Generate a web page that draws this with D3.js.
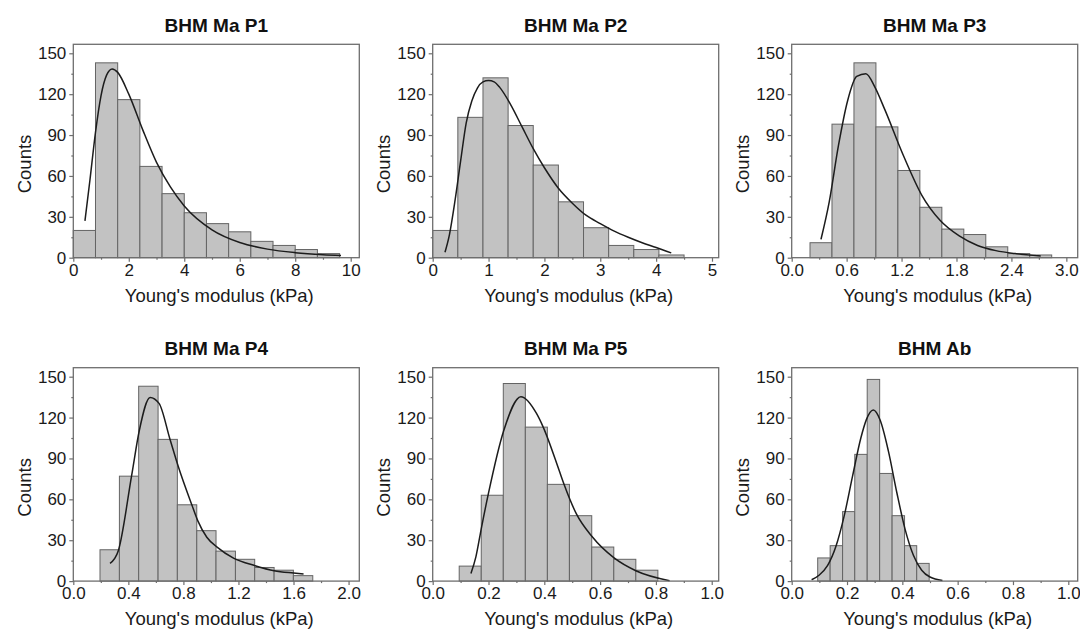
<!DOCTYPE html>
<html><head><meta charset="utf-8">
<script src="https://cdn.jsdelivr.net/npm/d3@7/dist/d3.min.js"></script>
<style>html,body{margin:0;padding:0;background:#fff;} svg{display:block;font-family:"Liberation Sans",Arial,sans-serif;}</style>
</head><body><svg id="c" width="1080" height="634"></svg>
<script>
// ---------- data ----------
const titles = ["BHM Ma P1", "BHM Ma P2", "BHM Ma P3", "BHM Ma P4", "BHM Ma P5", "BHM Ab"];
const xLabel = "Young's modulus (kPa)";
const yLabel = "Counts";
const yTicks = [0, 30, 60, 90, 120, 150];
const yMinorTicks = [15, 45, 75, 105, 135];
const yMax = 156.6;

const p1Edges = [0, 0.8, 1.6, 2.4, 3.2, 4.0, 4.8, 5.6, 6.4, 7.2, 8.0, 8.8, 9.6];
const p1Counts = [20, 143, 116, 67, 47, 33, 25, 19, 12, 9, 6, 3];
const p1CurveX = [0.42, 0.6, 0.8, 1.0, 1.2, 1.4, 1.6, 2.0, 2.5, 3.0, 3.5, 4.0, 5.0, 6.0, 7.0, 8.0, 9.0, 9.65];
const p1CurveY = [27, 57, 92, 119, 134, 138.5, 136, 120, 94, 70, 52, 38, 20.5, 11.2, 6.3, 3.7, 2.2, 1.6];
const p1XTicks = [0, 2, 4, 6, 8, 10];
const p1XMinor = [1, 3, 5, 7, 9];
const p1XMax = 10.31;

const p2Edges = [0, 0.45, 0.9, 1.35, 1.8, 2.25, 2.7, 3.15, 3.6, 4.05, 4.5];
const p2Counts = [20, 103, 132, 97, 68, 41, 22, 9, 6, 2];
const p2CurveX = [0.22, 0.3, 0.4, 0.5, 0.6, 0.7, 0.8, 0.9, 1.0, 1.1, 1.2, 1.4, 1.6, 1.8, 2.0, 2.25, 2.5, 2.75, 3.0, 3.25, 3.5, 3.75, 4.0, 4.27];
const p2CurveY = [4, 17, 42, 71, 99, 115, 124.5, 129, 130, 129, 125, 112, 96, 80, 66, 51, 40, 31, 25, 19.5, 15, 11, 7.5, 3.5];
const p2XTicks = [0, 1, 2, 3, 4, 5];
const p2XMinor = [0.5, 1.5, 2.5, 3.5, 4.5];
const p2XMax = 5.12;

const p3Edges = [0.2, 0.44, 0.68, 0.92, 1.16, 1.4, 1.64, 1.88, 2.12, 2.36, 2.6, 2.84];
const p3Counts = [11, 98, 143, 96, 64, 37, 21, 17, 8, 3, 2];
const p3CurveX = [0.32, 0.41, 0.51, 0.61, 0.71, 0.81, 0.91, 1.015, 1.22, 1.42, 1.62, 1.83, 2.03, 2.23, 2.44, 2.72];
const p3CurveY = [13.5, 41, 82, 115, 133, 135, 125, 109, 75, 46, 27.5, 16, 9, 5.2, 3, 1.3];
const p3XTicks = [0, 0.6, 1.2, 1.8, 2.4, 3.0];
const p3XMinor = [0.3, 0.9, 1.5, 2.1, 2.7];
const p3XMax = 3.124;

const p4Edges = [0.194, 0.335, 0.475, 0.616, 0.756, 0.897, 1.037, 1.178, 1.318, 1.459, 1.599, 1.74];
const p4Counts = [23, 77, 143, 104, 56, 37, 22, 16, 10, 8, 4];
const p4CurveX = [0.267, 0.327, 0.424, 0.48, 0.558, 0.623, 0.703, 0.764, 0.861, 0.904, 0.97, 1.047, 1.164, 1.321, 1.459, 1.6, 1.673];
const p4CurveY = [13, 22.3, 77.6, 110.7, 134.8, 130.4, 103.9, 83.7, 56, 44.4, 32.2, 24.8, 16.9, 11.3, 7.6, 5.9, 5.2];
const p4XTicks = [0, 0.4, 0.8, 1.2, 1.6, 2.0];
const p4XMinor = [0.2, 0.6, 1.0, 1.4, 1.8];
const p4XMax = 2.078;

const p5Edges = [0.095, 0.174, 0.253, 0.332, 0.411, 0.49, 0.57, 0.649, 0.728, 0.807];
const p5Counts = [11, 63, 145, 113, 71, 48, 25, 16, 8];
const p5CurveX = [0.137, 0.155, 0.175, 0.199, 0.255, 0.316, 0.372, 0.396, 0.453, 0.47, 0.515, 0.571, 0.65, 0.728, 0.849];
const p5CurveY = [5.6, 18, 39.5, 63.6, 110.7, 135.3, 123, 113, 81.3, 71.4, 49.3, 32.7, 17, 7.6, 0.3];
const p5XTicks = [0, 0.2, 0.4, 0.6, 0.8, 1.0];
const p5XMinor = [0.1, 0.3, 0.5, 0.7, 0.9];
const p5XMax = 1.025;

const p6Edges = [0.094, 0.139, 0.184, 0.228, 0.273, 0.318, 0.363, 0.408, 0.452, 0.497];
const p6Counts = [17, 26, 51, 93, 148, 79, 48, 26, 13];
const p6CurveX = [0.072, 0.10, 0.13, 0.16, 0.19, 0.22, 0.25, 0.27, 0.295, 0.32, 0.35, 0.38, 0.41, 0.44, 0.47, 0.50, 0.545];
const p6CurveY = [1, 4.5, 11.5, 25.5, 48, 77, 105, 118.5, 125.5, 118, 95, 65, 38, 19, 8, 3, 0.5];
const p6XTicks = [0, 0.2, 0.4, 0.6, 0.8, 1.0];
const p6XMinor = [0.1, 0.3, 0.5, 0.7, 0.9];
const p6XMax = 1.034;

// ---------- layout ----------
const panels = [
  {edges: p1Edges, counts: p1Counts, cx: p1CurveX, cy: p1CurveY, ticks: p1XTicks, minor: p1XMinor, xMax: p1XMax, fmt: d3.format("d")},
  {edges: p2Edges, counts: p2Counts, cx: p2CurveX, cy: p2CurveY, ticks: p2XTicks, minor: p2XMinor, xMax: p2XMax, fmt: d3.format("d")},
  {edges: p3Edges, counts: p3Counts, cx: p3CurveX, cy: p3CurveY, ticks: p3XTicks, minor: p3XMinor, xMax: p3XMax, fmt: d3.format(".1f")},
  {edges: p4Edges, counts: p4Counts, cx: p4CurveX, cy: p4CurveY, ticks: p4XTicks, minor: p4XMinor, xMax: p4XMax, fmt: d3.format(".1f")},
  {edges: p5Edges, counts: p5Counts, cx: p5CurveX, cy: p5CurveY, ticks: p5XTicks, minor: p5XMinor, xMax: p5XMax, fmt: d3.format(".1f")},
  {edges: p6Edges, counts: p6Counts, cx: p6CurveX, cy: p6CurveY, ticks: p6XTicks, minor: p6XMinor, xMax: p6XMax, fmt: d3.format(".1f")}
];
const lefts = [73.3, 432.7, 791.7];
const tops = [44.3, 367.7];
const pw = 286, ph = 213.4;
const frameColor = "#6e6e6e";

const svg = d3.select("#c");

panels.forEach((p, i) => {
  const col = i % 3, row = Math.floor(i / 3);
  const L = lefts[col], T = tops[row], B = T + ph, R = L + pw;
  const xs = d3.scaleLinear().domain([0, p.xMax]).range([L, R]);
  const ys = d3.scaleLinear().domain([0, yMax]).range([B, T]);
  const g = svg.append("g");

  // bars
  const bins = p.counts.map((c, j) => ({x0: p.edges[j], x1: p.edges[j + 1], c}));
  g.selectAll("rect.bar").data(bins).enter().append("rect")
    .attr("class", "bar")
    .attr("x", d => xs(d.x0))
    .attr("width", d => xs(d.x1) - xs(d.x0))
    .attr("y", d => ys(d.c))
    .attr("height", d => ys(0) - ys(d.c))
    .attr("fill", "#c2c2c2")
    .attr("stroke", "#646464")
    .attr("stroke-width", 1);

  // fitted curve
  const pts = p.cx.map((x, j) => [x, p.cy[j]]);
  g.append("path")
    .attr("d", d3.line().x(d => xs(d[0])).y(d => ys(d[1])).curve(d3.curveMonotoneX)(pts))
    .attr("fill", "none")
    .attr("stroke", "#1c1c1c")
    .attr("stroke-width", 1.5);

  // frame
  g.append("rect").attr("x", L).attr("y", T).attr("width", pw).attr("height", ph)
    .attr("fill", "none").attr("stroke", frameColor).attr("stroke-width", 1.3);

  // y axis
  const ya = g.append("g").attr("transform", `translate(${L},0)`)
    .call(d3.axisLeft(ys).tickValues(yTicks).tickSize(4).tickPadding(3).tickSizeOuter(0));
  const yam = g.append("g").attr("transform", `translate(${L},0)`)
    .call(d3.axisLeft(ys).tickValues(yMinorTicks).tickSize(2).tickFormat("").tickSizeOuter(0));
  // x axis
  const xa = g.append("g").attr("transform", `translate(0,${B})`)
    .call(d3.axisBottom(xs).tickValues(p.ticks).tickFormat(p.fmt).tickSize(4).tickPadding(2).tickSizeOuter(0));
  const xam = g.append("g").attr("transform", `translate(0,${B})`)
    .call(d3.axisBottom(xs).tickValues(p.minor).tickSize(2).tickFormat("").tickSizeOuter(0));
  [ya, yam, xa, xam].forEach(a => {
    a.select(".domain").remove();
    a.selectAll("line").attr("stroke", frameColor).attr("stroke-width", 1.2);
    a.selectAll("text").attr("font-size", 17).attr("fill", "#1a1a1a")
      .attr("font-family", '"Liberation Sans",Arial,sans-serif');
  });

  // title
  g.append("text").attr("x", (L + R) / 2).attr("y", T - 12.6)
    .attr("text-anchor", "middle").attr("font-size", 19).attr("font-weight", "bold")
    .attr("fill", "#111").text(titles[i]);
  // x label
  g.append("text").attr("x", (L + R) / 2 + 3).attr("y", B + 44.3)
    .attr("text-anchor", "middle").attr("font-size", 18.5).attr("fill", "#1a1a1a").text(xLabel);
  // y label
  g.append("text").attr("transform", `translate(${L - 42.5},${(T + B) / 2 + 13}) rotate(-90)`)
    .attr("text-anchor", "middle").attr("font-size", 18.5).attr("fill", "#1a1a1a").text(yLabel);
});
</script>
</body></html>
